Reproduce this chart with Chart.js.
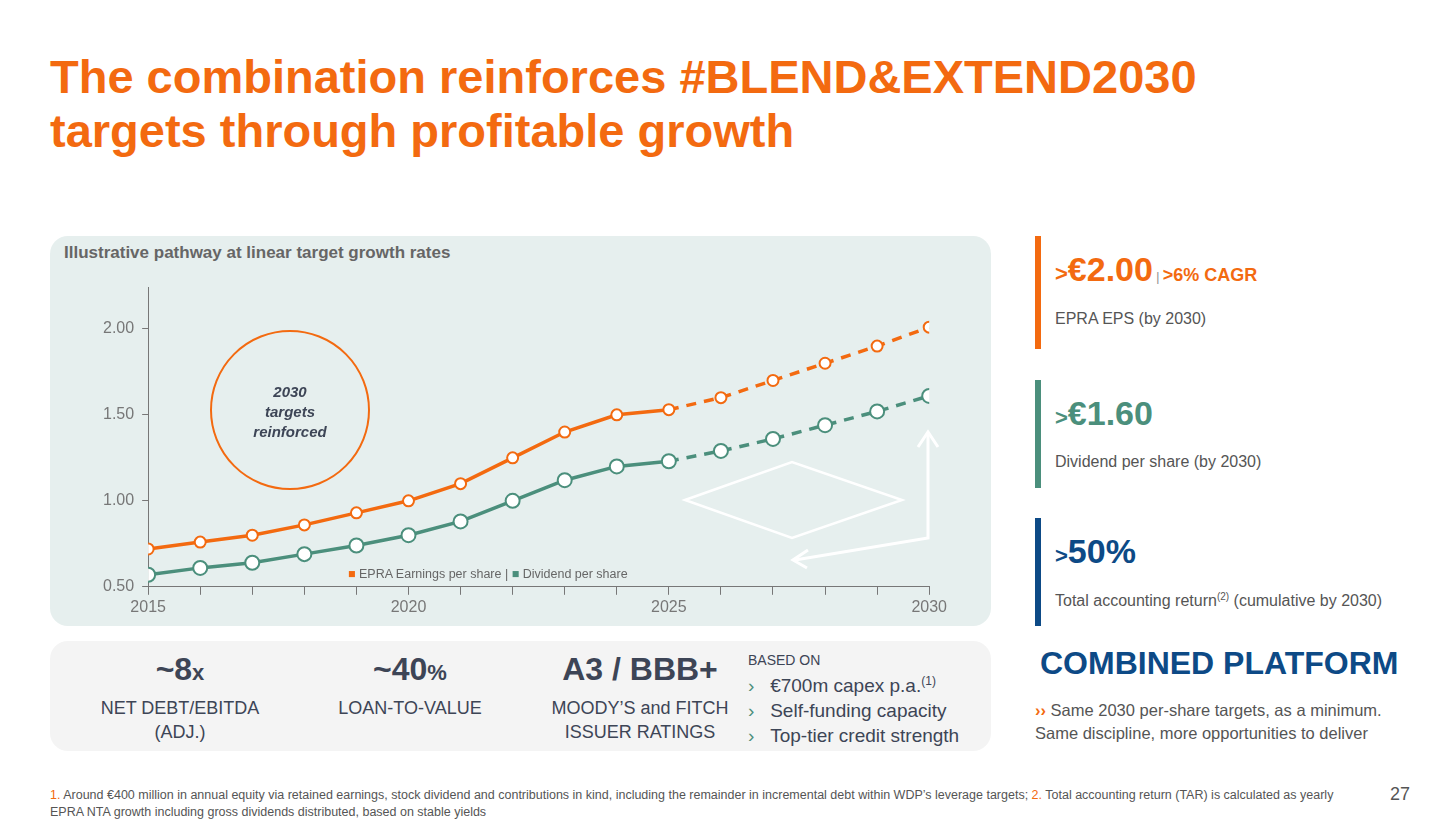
<!DOCTYPE html>
<html><head><meta charset="utf-8">
<script src="https://cdn.jsdelivr.net/npm/chart.js@4"></script>
<style>
body{margin:0;width:1456px;height:827px;background:#fff;font-family:"Liberation Sans",Arial,sans-serif;position:relative;overflow:hidden}
.a{position:absolute}
h1{position:absolute;left:50px;top:50px;margin:0;font-size:47px;line-height:54px;color:#f36a10;font-weight:bold}
.panel{background:#e6efee;border-radius:18px}
.kp{background:#f4f4f4;border-radius:18px}
.big{font-weight:bold;color:#3d4556;font-size:32px}
.lbl{color:#3d4556;font-size:18px;text-align:center;line-height:24px}
.bar{width:6px}
.gray{color:#555;font-size:16px}
</style></head><body>
<h1>The combination reinforces #BLEND&amp;EXTEND2030<br>targets through profitable growth</h1>

<div class="a panel" style="left:50px;top:236px;width:941px;height:390px"></div>
<div class="a" style="left:64px;top:243px;font-size:17px;font-weight:bold;color:#666">Illustrative pathway at linear target growth rates</div>
<div class="a" style="left:95px;top:270px;width:855px;height:350px"><canvas id="c"></canvas></div>
<div class="a" style="left:210px;top:330px;width:156px;height:156px;border:2px solid #f36a10;border-radius:50%"></div>
<div class="a" style="left:210px;top:382px;width:160px;text-align:center;font-size:15px;font-weight:bold;font-style:italic;color:#3d4556;line-height:20px">2030<br>targets<br>reinforced</div>
<svg class="a" style="left:680px;top:420px" width="270" height="160">
<polygon points="5,80 112,42 222,80 112,118" fill="none" stroke="#fff" stroke-width="2.5"/>
<polyline points="248,15 248,118 115,140" fill="none" stroke="#fff" stroke-width="3"/>
<polyline points="238,27 248,12 258,27" fill="none" stroke="#fff" stroke-width="3"/>
<polyline points="128,130 113,140 127,148" fill="none" stroke="#fff" stroke-width="3"/>
</svg>
<div class="a" style="left:348px;top:567px;font-size:12.5px;color:#666"><span style="color:#f36a10">■</span> EPRA Earnings per share | <span style="color:#4b8f7c">■</span> Dividend per share</div>

<div class="a kp" style="left:50px;top:641px;width:941px;height:110px"></div>
<div class="a big" style="left:50px;top:651px;width:260px;text-align:center">~8<span style="font-size:22px">x</span></div>
<div class="a lbl" style="left:50px;top:696px;width:260px">NET DEBT/EBITDA<br>(ADJ.)</div>
<div class="a big" style="left:280px;top:651px;width:260px;text-align:center">~40<span style="font-size:22px">%</span></div>
<div class="a lbl" style="left:280px;top:696px;width:260px">LOAN-TO-VALUE</div>
<div class="a big" style="left:520px;top:651px;width:240px;text-align:center">A3 / BBB+</div>
<div class="a lbl" style="left:520px;top:696px;width:240px">MOODY’S and FITCH<br>ISSUER RATINGS</div>
<div class="a" style="left:748px;top:652px;font-size:14px;color:#3d4556">BASED ON</div>
<div class="a" style="left:748px;top:669px;font-size:19px;color:#3d4556;line-height:25px">
<span style="color:#4b8f7c">›</span>&nbsp;&nbsp;&nbsp;€700m capex p.a.<sup style="font-size:12px">(1)</sup><br>
<span style="color:#4b8f7c">›</span>&nbsp;&nbsp;&nbsp;Self-funding capacity<br>
<span style="color:#4b8f7c">›</span>&nbsp;&nbsp;&nbsp;Top-tier credit strength</div>

<div class="a bar" style="left:1035px;top:236px;height:113px;background:#f36a10"></div>
<div class="a" style="left:1055px;top:250px;color:#f36a10;font-weight:bold"><span style="font-size:22px">&gt;</span><span style="font-size:34px">€2.00</span><span style="font-size:12px;color:#888;font-weight:normal"> | </span><span style="font-size:18px">&gt;6% CAGR</span></div>
<div class="a gray" style="left:1055px;top:310px">EPRA EPS (by 2030)</div>
<div class="a bar" style="left:1035px;top:380px;height:108px;background:#4b8f7c"></div>
<div class="a" style="left:1055px;top:394px;color:#4b8f7c;font-weight:bold"><span style="font-size:22px">&gt;</span><span style="font-size:34px">€1.60</span></div>
<div class="a gray" style="left:1055px;top:453px">Dividend per share (by 2030)</div>
<div class="a bar" style="left:1035px;top:518px;height:108px;background:#0d4a86"></div>
<div class="a" style="left:1055px;top:532px;color:#0d4a86;font-weight:bold"><span style="font-size:22px">&gt;</span><span style="font-size:34px">50%</span></div>
<div class="a gray" style="left:1055px;top:591px">Total accounting return<sup style="font-size:10px">(2)</sup> (cumulative by 2030)</div>
<div class="a" style="left:1040px;top:645px;font-size:32px;font-weight:bold;color:#0d4a86">COMBINED PLATFORM</div>
<div class="a gray" style="left:1035px;top:699px;line-height:23px;font-size:16.5px"><span style="color:#f36a10;font-weight:bold">››</span> Same 2030 per-share targets, as a minimum.<br>Same discipline, more opportunities to deliver</div>

<div class="a" style="left:50px;top:787px;width:1290px;font-size:12.5px;color:#555;line-height:17px"><span style="color:#f36a10">1.</span> Around €400 million in annual equity via retained earnings, stock dividend and contributions in kind, including the remainder in incremental debt within WDP’s leverage targets; <span style="color:#f36a10">2.</span> Total accounting return (TAR) is calculated as yearly EPRA NTA growth including gross dividends distributed, based on stable yields</div>
<div class="a" style="left:1390px;top:784px;font-size:18px;color:#555">27</div>

<script>
const years = [2015,2016,2017,2018,2019,2020,2021,2022,2023,2024,2025,2026,2027,2028,2029,2030];
const epsValues = [0.72,0.76,0.80,0.86,0.93,1.00,1.10,1.25,1.40,1.50,1.53,1.60,1.70,1.80,1.90,2.01];
const dpsValues = [0.57,0.61,0.64,0.69,0.74,0.80,0.88,1.00,1.12,1.20,1.23,1.29,1.36,1.44,1.52,1.61];
const yTicks = [0.5,1.0,1.5,2.0];
const forecastFrom = 10;

const dash = ctx => ctx.p0DataIndex >= forecastFrom ? [10,8] : undefined;
function ds(vals, color, r){
  return {data: years.map((y,i)=>({x:y,y:vals[i]})), borderColor:color, borderWidth:3.5,
    pointBackgroundColor:'#fff', pointBorderColor:color, pointBorderWidth:2, pointRadius:r,
    segment:{borderDash:dash}, tension:0};
}
new Chart(document.getElementById('c'), {
  type:'line',
  data:{datasets:[ds(epsValues,'#f36a10',5.5), ds(dpsValues,'#4b8f7c',7)]},
  options:{responsive:true, maintainAspectRatio:false, animation:false,
    layout:{padding:{right:20}},
    plugins:{legend:{display:false}, tooltip:{enabled:false}},
    scales:{
      x:{type:'linear', min:2015, max:2030, offset:false,
        ticks:{stepSize:1, autoSkip:false, maxRotation:0, color:'#777', font:{size:16},
          callback:v=> v%5===0 ? String(v) : ''},
        grid:{drawOnChartArea:false, tickLength:8, color:'#777'},
        border:{color:'#777'}},
      y:{min:0.5, max:2.24,
        afterBuildTicks:a=>{a.ticks=yTicks.map(v=>({value:v}));},
        ticks:{color:'#777', font:{size:16}, padding:8, callback:v=>v.toFixed(2)},
        grid:{drawOnChartArea:false, tickLength:6, color:'#777'},
        border:{color:'#777'}}
    }}
});
</script>
</body></html>
